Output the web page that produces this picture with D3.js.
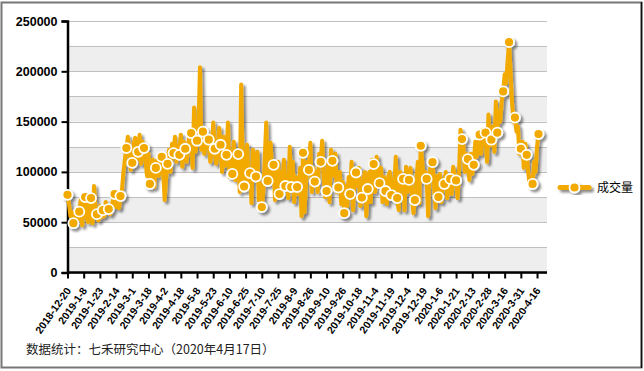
<!DOCTYPE html>
<html>
<head>
<meta charset="utf-8">
<script src="https://cdn.jsdelivr.net/npm/d3@7"></script>
<style>
  body { margin: 0; background: #fff; }
  svg { display: block; font-family: "Liberation Sans", Arial, sans-serif; }
</style>
</head>
<body>
<svg id="chart" width="644" height="371"></svg>
<script>
// 成交量, one value per trading day, 2018-12-20 .. 2020-4-17
var volume = [
    77200, 68000, 56000, 60000, 49000, 46000, 58000, 52000, 60500, 72000,
    47000, 78000, 75000, 55000, 50000, 68000, 74000, 49000, 86000, 64000,
    58000, 52000, 66000, 55000, 62000, 56000, 70000, 60000, 63000, 58000,
    67000, 72000, 78000, 65000, 70000, 64000, 76000, 82000, 100000, 112000,
    123700, 135000, 118000, 102000, 109000, 128000, 134000, 112000, 120000, 137000,
    108000, 130000, 123700, 112000, 96000, 118000, 88000, 98000, 112000, 85000,
    104000, 112000, 96000, 106000, 115000, 100000, 72000, 94000, 108000, 122000,
    100000, 128000, 118700, 135000, 110000, 126000, 117000, 137000, 105000, 130000,
    123000, 110000, 128000, 136000, 138600, 104000, 164000, 120000, 131000, 145000,
    204000, 122000, 140000, 118000, 135000, 124000, 132000, 110000, 120000, 149000,
    123000, 108000, 118000, 144000, 127000, 100000, 135000, 106000, 117000, 149000,
    95000, 120000, 98000, 130000, 92000, 108000, 117700, 80000, 187000, 110000,
    85500, 110000, 127000, 92000, 98800, 69000, 122000, 104000, 95400, 120000,
    72000, 88000, 65000, 80000, 112000, 149000, 91000, 118000, 129000, 96000,
    107000, 72000, 98000, 110000, 78000, 100000, 82000, 112000, 86000, 96000,
    74000, 125000, 85000, 110000, 70000, 95000, 85000, 78000, 104000, 56000,
    119000, 60000, 88000, 110000, 102000, 129000, 80000, 104000, 90400, 100000,
    80000, 118000, 110000, 131000, 96000, 75000, 81000, 108000, 70000, 122000,
    111000, 96000, 118000, 80000, 84500, 100000, 68000, 90000, 59000, 86000,
    66000, 95000, 78000, 110000, 62000, 92000, 99400, 86000, 104000, 66000,
    74500, 90000, 100000, 56000, 83000, 100000, 70000, 112000, 107800, 80000,
    115000, 96000, 88800, 104000, 70000, 95000, 81000, 68000, 96000, 100000,
    77000, 92000, 84000, 115000, 74000, 62000, 100000, 85000, 93000, 62000,
    105000, 80000, 92000, 104000, 78000, 59000, 72000, 90000, 110000, 69000,
    126000, 110000, 92000, 100000, 93000, 56000, 98000, 110000, 109700, 88000,
    64000, 96000, 75000, 98000, 70000, 92000, 88000, 100000, 74000, 96000,
    93000, 78000, 105000, 96000, 91500, 74000, 100000, 142000, 132600, 125000,
    100000, 118000, 112700, 92000, 118000, 98000, 107000, 130000, 115000, 125000,
    137000, 118000, 142000, 128000, 139000, 110000, 157000, 126000, 132000, 145000,
    120000, 170000, 139000, 160000, 150000, 170000, 180000, 197000, 188000, 210000,
    229000, 200000, 169000, 150000, 154000, 140000, 145000, 118000, 123000, 130000,
    104000, 128000, 117000, 100000, 87000, 95000, 88000, 110000, 100000, 125000,
    137600
];

// one label every 11 trading days
var tickLabels = [
    "2018-12-20", "2019-1-8", "2019-1-23", "2019-2-14", "2019-3-1", "2019-3-18",
    "2019-4-2", "2019-4-18", "2019-5-8", "2019-5-23", "2019-6-10", "2019-6-25",
    "2019-7-10", "2019-7-25", "2019-8-9", "2019-8-26", "2019-9-10", "2019-9-26",
    "2019-10-18", "2019-11-4", "2019-11-19", "2019-12-4", "2019-12-19", "2020-1-6",
    "2020-1-21", "2020-2-13", "2020-2-28", "2020-3-16", "2020-3-31", "2020-4-16"
];
var tickStep = 11;
var markerStep = 4;
var yTicks = [0, 50000, 100000, 150000, 200000, 250000];
var gridValues = [0, 25000, 50000, 75000, 100000, 125000, 150000, 175000, 200000, 225000, 250000];
var seriesName = "成交量";
var footNote = "数据统计：七禾研究中心（2020年4月17日）";

var orange = "#f2a900";
var svg = d3.select("#chart");

/* outer frame */
svg.append("rect")
    .attr("x", 1.5).attr("y", 2.5).attr("width", 640).attr("height", 365)
    .attr("fill", "#fff").attr("stroke", "#777").attr("stroke-width", 2);
svg.append("line")
    .attr("x1", 641.5).attr("x2", 641.5).attr("y1", 2).attr("y2", 368)
    .attr("stroke", "#111").attr("stroke-width", 1.5);

/* drop shadow */
var defs = svg.append("defs");
defs.append("filter")
    .attr("id", "shadow").attr("x", "-10%").attr("y", "-10%")
    .attr("width", "130%").attr("height", "130%")
  .append("feDropShadow")
    .attr("dx", 2.5).attr("dy", 2.5).attr("stdDeviation", 1.2)
    .attr("flood-color", "#000").attr("flood-opacity", 0.45);

var plotLeft = 67.5, plotRight = 547;
var x = d3.scaleLinear().domain([0, volume.length - 1]).range([67.5, 538.5]);
var y = d3.scaleLinear().domain([0, 250000]).range([272.5, 21]);

/* alternating bands */
var bands = d3.range(0, gridValues.length - 1);
svg.append("g").selectAll("rect")
    .data(bands)
    .enter().append("rect")
    .attr("x", plotLeft)
    .attr("width", plotRight - plotLeft)
    .attr("y", function(i) { return y(gridValues[i + 1]); })
    .attr("height", function(i) { return y(gridValues[i]) - y(gridValues[i + 1]); })
    .attr("fill", function(i) { return i % 2 == 0 ? "#eeeeee" : "#ffffff"; });

svg.append("g").selectAll("line")
    .data(gridValues)
    .enter().append("line")
    .attr("x1", plotLeft).attr("x2", plotRight)
    .attr("y1", function(d) { return Math.round(y(d)) + 0.5; })
    .attr("y2", function(d) { return Math.round(y(d)) + 0.5; })
    .attr("stroke", "#c0c0c0").attr("stroke-width", 1);

/* y axis */
var yAxis = d3.axisLeft(y).tickValues(yTicks).tickSize(6).tickPadding(4)
    .tickFormat(d3.format("d"));
var gy = svg.append("g").attr("transform", "translate(" + plotLeft + ",0)").call(yAxis);
gy.select(".domain").attr("stroke", "#000").attr("stroke-width", 2.5);
gy.selectAll(".tick line").attr("stroke", "#000").attr("stroke-width", 2);
gy.selectAll(".tick text")
    .attr("fill", "#000").attr("font-size", "12.5px").attr("font-weight", "bold")
    .attr("font-family", "Liberation Sans, Arial, sans-serif");

/* x axis */
var xTicks = tickLabels.map(function(d, i) { return i * tickStep; });
var xAxis = d3.axisBottom(x).tickValues(xTicks).tickSize(6).tickSizeOuter(0)
    .tickFormat(function(d) { return tickLabels[d / tickStep]; });
var gx = svg.append("g").attr("transform", "translate(0,272.5)").call(xAxis);
gx.select(".domain").attr("d", "M" + plotLeft + ",0H" + plotRight)
    .attr("stroke", "#000").attr("stroke-width", 2.5);
gx.selectAll(".tick line").attr("stroke", "#000").attr("stroke-width", 2);
gx.selectAll(".tick text")
    .attr("fill", "#000").attr("font-size", "10.5px").attr("font-weight", "bold")
    .attr("font-family", "Liberation Sans, Arial, sans-serif")
    .attr("text-anchor", "end")
    .attr("y", 0)
    .attr("dy", "0.35em")
    .attr("transform", "translate(0.5,16) rotate(-55)");

/* the series */
var line = d3.line()
    .x(function(d, i) { return x(i); })
    .y(function(d) { return y(d); });

var series = svg.append("g").attr("filter", "url(#shadow)");
series.append("path")
    .datum(volume)
    .attr("d", line)
    .attr("fill", "none")
    .attr("stroke", orange)
    .attr("stroke-width", 4)
    .attr("stroke-linejoin", "round")
    .attr("stroke-linecap", "round");

var marks = volume.map(function(v, i) { return { i: i, v: v }; })
    .filter(function(d) { return d.i % markerStep == 0; });
series.selectAll("circle")
    .data(marks)
    .enter().append("circle")
    .attr("cx", function(d) { return x(d.i); })
    .attr("cy", function(d) { return y(d.v); })
    .attr("r", 5)
    .attr("fill", orange)
    .attr("stroke", "#fff")
    .attr("stroke-width", 1.8);

/* legend */
var legend = svg.append("g").attr("transform", "translate(560,187.5)");
var lg = legend.append("g").attr("filter", "url(#shadow)");
lg.append("line")
    .attr("x1", 0).attr("x2", 29).attr("y1", 0).attr("y2", 0)
    .attr("stroke", orange).attr("stroke-width", 5).attr("stroke-linecap", "round");
lg.append("circle")
    .attr("cx", 14.5).attr("cy", 0).attr("r", 5)
    .attr("fill", orange).attr("stroke", "#fff").attr("stroke-width", 1.8);
legend.append("text")
    .attr("x", 37).attr("y", 0).attr("dy", "0.35em")
    .attr("font-size", "12px")
    .attr("font-family", "Noto Sans CJK SC, sans-serif")
    .attr("fill", "#000")
    .text(seriesName);

/* footer */
svg.append("text")
    .attr("x", 26).attr("y", 350).attr("dy", "0.35em")
    .attr("font-size", "12.5px")
    .attr("font-family", "Noto Sans CJK SC, sans-serif")
    .attr("fill", "#222")
    .text(footNote);
</script>
</body>
</html>
